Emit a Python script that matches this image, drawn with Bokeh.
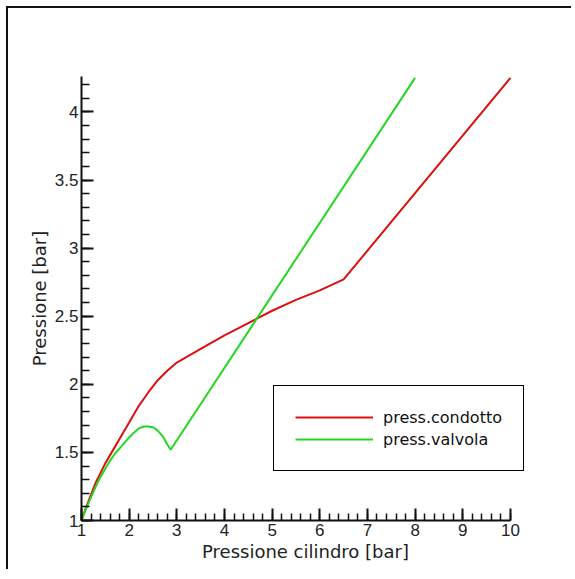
from bokeh.plotting import figure
from bokeh.models import SingleIntervalTicker, Legend, LegendItem, ColumnDataSource, Range1d
from bokeh.embed import file_html
from bokeh.resources import INLINE

# Data
red_x = [1.0, 1.1, 1.2, 1.3, 1.4, 1.5, 1.6, 1.8, 2.0, 2.2, 2.4, 2.6, 2.8, 3.0,
         3.5, 4.0, 4.5, 5.0, 5.5, 6.0, 6.5, 10.0]
red_y = [1.0, 1.1, 1.19, 1.28, 1.35, 1.42, 1.48, 1.6, 1.72, 1.84, 1.94, 2.03, 2.1, 2.16,
         2.26, 2.36, 2.45, 2.54, 2.62, 2.69, 2.77, 4.25]

green_x = [1.0, 1.1, 1.2, 1.3, 1.4, 1.5, 1.6, 1.7, 1.8, 1.9, 2.0, 2.1, 2.2, 2.3, 2.4,
           2.5, 2.6, 2.7, 2.8, 2.87, 8.0]
green_y = [1.0, 1.09, 1.17, 1.25, 1.32, 1.38, 1.44, 1.49, 1.53, 1.57, 1.61, 1.645, 1.675,
           1.69, 1.69, 1.685, 1.66, 1.62, 1.56, 1.52, 4.25]

series_names = ["press.condotto", "press.valvola"]
y_ticks = [1, 1.5, 2, 2.5, 3, 3.5, 4]
y_tick_labels = ["1", "1.5", "2", "2.5", "3", "3.5", "4"]

TICK_FONT = "Liberation Sans"
LABEL_FONT = "DejaVu Sans"

p = figure(width=565, height=563, output_backend="svg", toolbar_location=None,
           x_range=Range1d(1, 10.4), y_range=Range1d(1, 4.26),
           min_border_left=73, min_border_top=68, min_border_right=44, min_border_bottom=51,
           styles={"border-left": "2px solid #111", "border-top": "2px solid #111",
                   "margin-left": "6px", "margin-top": "6px"})
p.outline_line_color = None
p.xgrid.visible = False
p.ygrid.visible = False
p.background_fill_color = "white"
p.border_fill_color = "white"

src_r = ColumnDataSource(dict(x=red_x, y=red_y))
src_g = ColumnDataSource(dict(x=green_x, y=green_y))
r1 = p.line("x", "y", source=src_r, line_color="#dd1010", line_width=2)
r2 = p.line("x", "y", source=src_g, line_color="#22d822", line_width=2)

p.xaxis.ticker = SingleIntervalTicker(interval=1, num_minor_ticks=5)
p.yaxis.ticker = SingleIntervalTicker(interval=0.5, num_minor_ticks=5)
p.yaxis.major_label_overrides = {float(t): l for t, l in zip(y_ticks, y_tick_labels)}
p.xaxis.bounds = (1, 10)

for ax in (p.xaxis[0], p.yaxis[0]):
    ax.axis_line_color = "#111111"
    ax.axis_line_width = 2
    ax.major_tick_line_color = "#111111"
    ax.minor_tick_line_color = "#111111"
    ax.major_tick_line_width = 2
    ax.minor_tick_line_width = 1.5
    ax.major_tick_out = 0
    ax.minor_tick_out = 0
    ax.major_tick_in = 12
    ax.major_label_text_font = TICK_FONT
    ax.major_label_text_font_size = "17px"
    ax.major_label_text_color = "#222222"
    ax.axis_label_text_font = LABEL_FONT
    ax.axis_label_text_font_size = "18px"
    ax.axis_label_text_font_style = "normal"
    ax.axis_label_text_color = "#222222"
    ax.major_label_standoff = 3
    ax.axis_label_standoff = 2

p.xaxis.minor_tick_in = 7
p.yaxis.minor_tick_in = 8
p.xaxis.axis_label = "Pressione cilindro [bar]"
p.yaxis.axis_label = "Pressione [bar]"

legend = Legend(items=[LegendItem(label=series_names[0], renderers=[r1]),
                       LegendItem(label=series_names[1], renderers=[r2])],
                location=(192, 49), padding=21, margin=0, spacing=2,
                glyph_width=78, glyph_height=20, label_height=20, label_width=100,
                label_standoff=10, border_line_color="#000000", border_line_width=1.5,
                border_line_alpha=1.0,
                background_fill_color="white", background_fill_alpha=1,
                label_text_font=LABEL_FONT, label_text_font_size="16px",
                label_text_color="#111111")
p.add_layout(legend)

open("out.html", "w").write(file_html(p, INLINE))
